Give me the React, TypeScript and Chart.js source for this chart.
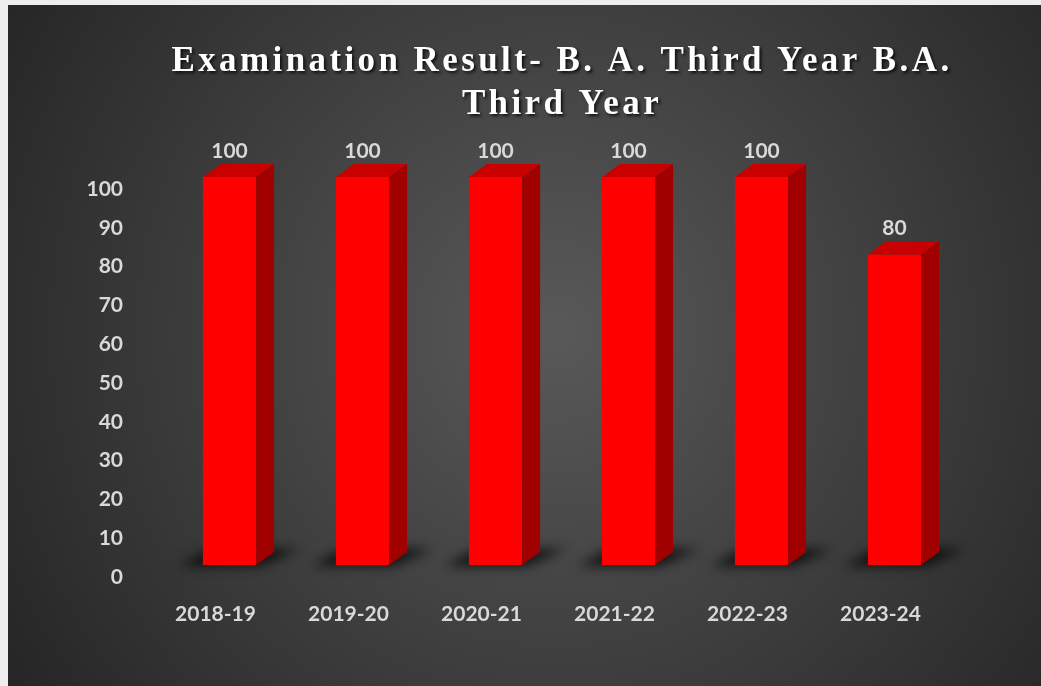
import React, { useEffect, useRef } from 'react';
import { Chart, registerables } from 'chart.js';

Chart.register(...registerables);

const categories = ['2018-19', '2019-20', '2020-21', '2021-22', '2022-23', '2023-24'];
const passPercent = [100, 100, 100, 100, 100, 80];
const titleLines = ['Examination Result- B. A. Third Year B.A.', 'Third Year'];
const yMin = 0;
const yMax = 100;
const yStep = 10;

const DX = 18;
const DY = -13;
const TEXT = '#d9d9d9';
const TICK_FONT = { family: "Lato, 'Open Sans', sans-serif", size: 21, weight: 'bold' as const };

const bgPlugin = {
  id: 'bgPlugin',
  beforeDraw(chart: any) {
    const { ctx, width, height } = chart;
    const cx = width * 0.53;
    const cy = height * 0.48;
    const g = ctx.createRadialGradient(cx, cy, 0, cx, cy, Math.hypot(width, height) * 0.55);
    g.addColorStop(0, '#595959');
    g.addColorStop(1, '#232323');
    ctx.save();
    ctx.fillStyle = g;
    ctx.fillRect(0, 0, width, height);
    ctx.restore();
  },
};

const shadowPlugin = {
  id: 'shadowPlugin',
  beforeDatasetsDraw(chart: any) {
    const { ctx } = chart;
    const meta = chart.getDatasetMeta(0);
    ctx.save();
    ctx.filter = 'blur(6px)';
    ctx.fillStyle = 'rgba(0,0,0,0.75)';
    meta.data.forEach((bar: any) => {
      const { x, base, width } = bar.getProps(['x', 'base', 'width'], true);
      const left = x - width / 2;
      const right = x + width / 2;
      ctx.beginPath();
      ctx.moveTo(left - 24, base + 1);
      ctx.lineTo(right + 4, base + 1);
      ctx.lineTo(right + DX + 26, base + DY - 3);
      ctx.lineTo(left + DX - 10, base + DY - 3);
      ctx.closePath();
      ctx.fill();
    });
    ctx.restore();
  },
};

const cubePlugin = {
  id: 'cubePlugin',
  afterDatasetsDraw(chart: any) {
    const { ctx } = chart;
    const meta = chart.getDatasetMeta(0);
    meta.data.forEach((bar: any, i: number) => {
      const { x, y, base, width } = bar.getProps(['x', 'y', 'base', 'width'], true);
      const left = x - width / 2;
      const right = x + width / 2;
      ctx.save();
      ctx.fillStyle = '#c80000';
      ctx.beginPath();
      ctx.moveTo(left, y);
      ctx.lineTo(right, y);
      ctx.lineTo(right + DX, y + DY);
      ctx.lineTo(left + DX, y + DY);
      ctx.closePath();
      ctx.fill();
      ctx.fillStyle = '#a00000';
      ctx.beginPath();
      ctx.moveTo(right, y);
      ctx.lineTo(right + DX, y + DY);
      ctx.lineTo(right + DX, base + DY);
      ctx.lineTo(right, base);
      ctx.closePath();
      ctx.fill();
      ctx.fillStyle = TEXT;
      ctx.font = `bold ${TICK_FONT.size}px ${TICK_FONT.family}`;
      ctx.textAlign = 'center';
      ctx.textBaseline = 'middle';
      ctx.fillText(String(passPercent[i]), x, y - 26);
      ctx.restore();
    });
  },
};

const titlePlugin = {
  id: 'titlePlugin',
  afterDraw(chart: any) {
    const { ctx } = chart;
    ctx.save();
    ctx.font = "bold 35px 'Liberation Serif', 'Times New Roman', serif";
    (ctx as any).letterSpacing = '3.4px';
    ctx.textAlign = 'center';
    ctx.textBaseline = 'middle';
    ctx.fillStyle = '#ffffff';
    ctx.shadowColor = 'rgba(0,0,0,0.75)';
    ctx.shadowOffsetX = 2;
    ctx.shadowOffsetY = 2;
    ctx.shadowBlur = 3;
    const cx = 554;
    titleLines.forEach((line, i) => {
      ctx.fillText(line, cx, 57 + i * 43);
    });
    ctx.restore();
  },
};

export default function App() {
  const ref = useRef<HTMLCanvasElement>(null);
  useEffect(() => {
    document.body.style.margin = '0';
    document.body.style.background = '#eeeeee';
    if (!ref.current) return;
    const chart = new Chart(ref.current, {
      type: 'bar',
      data: {
        labels: categories,
        datasets: [
          {
            data: passPercent,
            backgroundColor: '#ff0000',
            borderWidth: 0,
            barPercentage: 0.4,
            categoryPercentage: 1,
          },
        ],
      },
      options: {
        animation: false,
        responsive: false,
        devicePixelRatio: 1,
        layout: { padding: { top: 172, right: 80, left: 0, bottom: 0 } },
        plugins: { legend: { display: false }, title: { display: false }, tooltip: { enabled: false } },
        scales: {
          x: {
            grid: { display: false, drawTicks: false },
            border: { display: false },
            ticks: { color: TEXT, font: TICK_FONT, padding: 37, labelOffset: -14, maxRotation: 0 },
            afterFit(scale: any) {
              scale.height = 121;
            },
          },
          y: {
            min: yMin,
            max: yMax,
            grid: { display: false, drawTicks: false },
            border: { display: false },
            ticks: { stepSize: yStep, color: TEXT, font: TICK_FONT, padding: 40, labelOffset: 12 },
            afterFit(scale: any) {
              scale.width = 155;
            },
          },
        },
      },
      plugins: [bgPlugin, shadowPlugin, cubePlugin, titlePlugin],
    });
    return () => chart.destroy();
  }, []);
  return (
    <div style={{ position: 'absolute', left: 8, top: 5, width: 1033, height: 681 }}>
      <canvas ref={ref} width={1033} height={681} style={{ display: 'block' }} />
    </div>
  );
}
